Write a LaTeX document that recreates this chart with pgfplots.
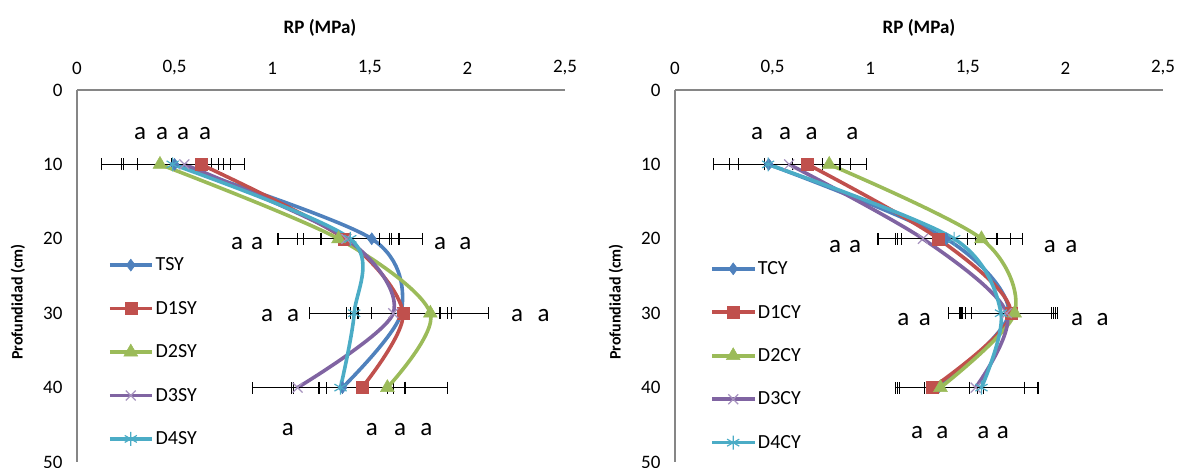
\documentclass[border=0pt]{standalone}
\usepackage{pgfplots}
\pgfplotsset{compat=1.18}
\usepackage{fontspec}
\setmainfont{Carlito}
\definecolor{cBlue}{HTML}{4F81BD}
\definecolor{cRed}{HTML}{C0504D}
\definecolor{cGreen}{HTML}{9BBB59}
\definecolor{cPurple}{HTML}{8064A2}
\definecolor{cCyan}{HTML}{4BACC6}
\definecolor{cAxis}{HTML}{868686}

\pgfplotstableread{
x y e
0.50 10 0.19
1.51 20 0.26
1.66 30 0.26
1.36 40 0.26
}\TSY
\pgfplotstableread{
x y e
0.635 10 0.15
1.37 20 0.24
1.67 30 0.23
1.46 40 0.22
}\DISY
\pgfplotstableread{
x y e
0.425 10 0.30
1.34 20 0.31
1.81 30 0.30
1.59 40 0.31
}\DIISY
\pgfplotstableread{
x y e
0.55 10 0.31
1.38 20 0.22
1.62 30 0.24
1.13 40 0.23
}\DIIISY
\pgfplotstableread{
x y e
0.49 10 0.26
1.40 20 0.15
1.42 30 0.23
1.35 40 0.24
}\DIVSY

\pgfplotstableread{
x y e
0.48 10 0.20
1.39 20 0.26
1.71 30 0.25
1.35 40 0.20
}\TCY
\pgfplotstableread{
x y e
0.68 10 0.22
1.35 20 0.19
1.72 30 0.23
1.32 40 0.19
}\DICY
\pgfplotstableread{
x y e
0.79 10 0.19
1.57 20 0.21
1.74 30 0.22
1.36 40 0.22
}\DIICY
\pgfplotstableread{
x y e
0.585 10 0.26
1.27 20 0.23
1.70 30 0.23
1.54 40 0.25
}\DIIICY
\pgfplotstableread{
x y e
0.477 10 0.28
1.43 20 0.29
1.67 30 0.27
1.57 40 0.29
}\DIVCY

\pgfplotsset{
  rpaxis/.style={
    scale only axis, width=488bp, height=372bp,
    xmin=0, xmax=2.5, ymin=0, ymax=50, y dir=reverse,
    axis x line*=top, axis y line*=left,
    axis line style={draw=cAxis, line width=1.6bp},
    xtick={0,0.5,1,1.5,2,2.5}, ytick={0,10,20,30,40,50},
    major tick length=0pt,
    /pgf/number format/use comma,
    /pgf/number format/assume math mode=true,
    tick label style={font=\fontsize{19bp}{21bp}\selectfont},
    xticklabel style={yshift=12bp},
    yticklabel style={xshift=-11bp},
    clip=false,
    legend style={draw=none, fill=none, anchor=north west,
      font=\fontsize{20bp}{22bp}\selectfont, row sep=25bp},
    legend cell align=left,
    legend image code/.code={\draw[mark repeat=2,mark phase=2] plot coordinates {(0bp,0bp) (21bp,0bp) (42bp,0bp)};},
    every axis plot/.append style={smooth, tension=0.5, line width=3.6bp},
  },
  ebars/.style={
    error bars/x dir=both, error bars/x explicit,
    error bars/error bar style={black, line width=1.2bp, solid},
    error bars/error mark=|,
    error bars/error mark options={black, mark size=6bp, line width=1.2bp, solid},
  },
  sBlue/.style={ebars, color=cBlue, mark=diamond*, mark size=6bp, mark options={solid, line width=0.5bp}},
  sRed/.style={ebars, color=cRed, mark=square*, mark size=6bp, mark options={solid, line width=0.5bp}},
  sGreen/.style={ebars, color=cGreen, mark=triangle*, mark size=8bp, mark options={solid, line width=0.5bp}},
  sPurple/.style={ebars, color=cPurple, mark=x, mark size=7bp, mark options={solid, line width=1.2bp, draw=cPurple!70}},
  sCyan/.style={ebars, color=cCyan, mark=asterisk, mark size=7bp, mark options={solid, line width=1.2bp}},
}
\newcommand{\afont}{\fontsize{25bp}{27bp}\selectfont}
\newcommand{\A}[2]{\node[font=\afont, inner sep=0pt] at (axis cs:#1,#2) {a};}

\begin{document}
\begin{tikzpicture}
\path[use as bounding box] (0,0) rectangle (1178bp,-468bp);

% ---------- left ----------
\begin{axis}[rpaxis, at={(77bp,-90bp)}, anchor=north west,
  legend style={at={(0.057,0.56)}}]
\addplot+[sBlue] table[x=x,y=y,x error=e] {\TSY};
\addplot+[sRed] table[x=x,y=y,x error=e] {\DISY};
\addplot+[sGreen] table[x=x,y=y,x error=e] {\DIISY};
\addplot+[sPurple] table[x=x,y=y,x error=e] {\DIIISY};
\addplot+[sCyan] table[x=x,y=y,x error=e] {\DIVSY};
\legend{TSY,D1SY,D2SY,D3SY,D4SY}
\A{0.323}{5.8}\A{0.436}{5.8}\A{0.543}{5.8}\A{0.656}{5.8}
\A{0.82}{20.6}\A{0.923}{20.6}\A{1.86}{20.6}\A{1.99}{20.6}
\A{0.974}{30.3}\A{1.107}{30.3}\A{2.255}{30.3}\A{2.39}{30.3}
\A{1.08}{45.7}\A{1.51}{45.7}\A{1.655}{45.7}\A{1.79}{45.7}
\end{axis}
\node[font=\fontsize{19bp}{21bp}\selectfont\bfseries] at (320bp,-28bp) {RP (MPa)};
\node[font=\fontsize{16bp}{18bp}\selectfont\bfseries, rotate=90] at (18bp,-302bp) {Profundidad (cm)};

% ---------- right ----------
\begin{axis}[rpaxis, at={(675bp,-90bp)}, anchor=north west,
  legend style={at={(0.066,0.55)}}]
\addplot+[sBlue] table[x=x,y=y,x error=e] {\TCY};
\addplot+[sRed] table[x=x,y=y,x error=e] {\DICY};
\addplot+[sGreen] table[x=x,y=y,x error=e] {\DIICY};
\addplot+[sPurple] table[x=x,y=y,x error=e] {\DIIICY};
\addplot+[sCyan] table[x=x,y=y,x error=e] {\DIVCY};
\legend{TCY,D1CY,D2CY,D3CY,D4CY}
\A{0.42}{5.8}\A{0.564}{5.8}\A{0.70}{5.8}\A{0.908}{5.8}
\A{0.82}{21.0}\A{0.923}{21.0}\A{1.92}{21.0}\A{2.03}{21.0}
\A{1.17}{30.8}\A{1.28}{30.8}\A{2.06}{30.8}\A{2.19}{30.8}
\A{1.24}{46}\A{1.37}{46}\A{1.58}{46}\A{1.68}{46}
\end{axis}
\node[font=\fontsize{19bp}{21bp}\selectfont\bfseries] at (919bp,-28bp) {RP (MPa)};
\node[font=\fontsize{16bp}{18bp}\selectfont\bfseries, rotate=90] at (616bp,-302bp) {Profundidad (cm)};
\end{tikzpicture}
\end{document}
